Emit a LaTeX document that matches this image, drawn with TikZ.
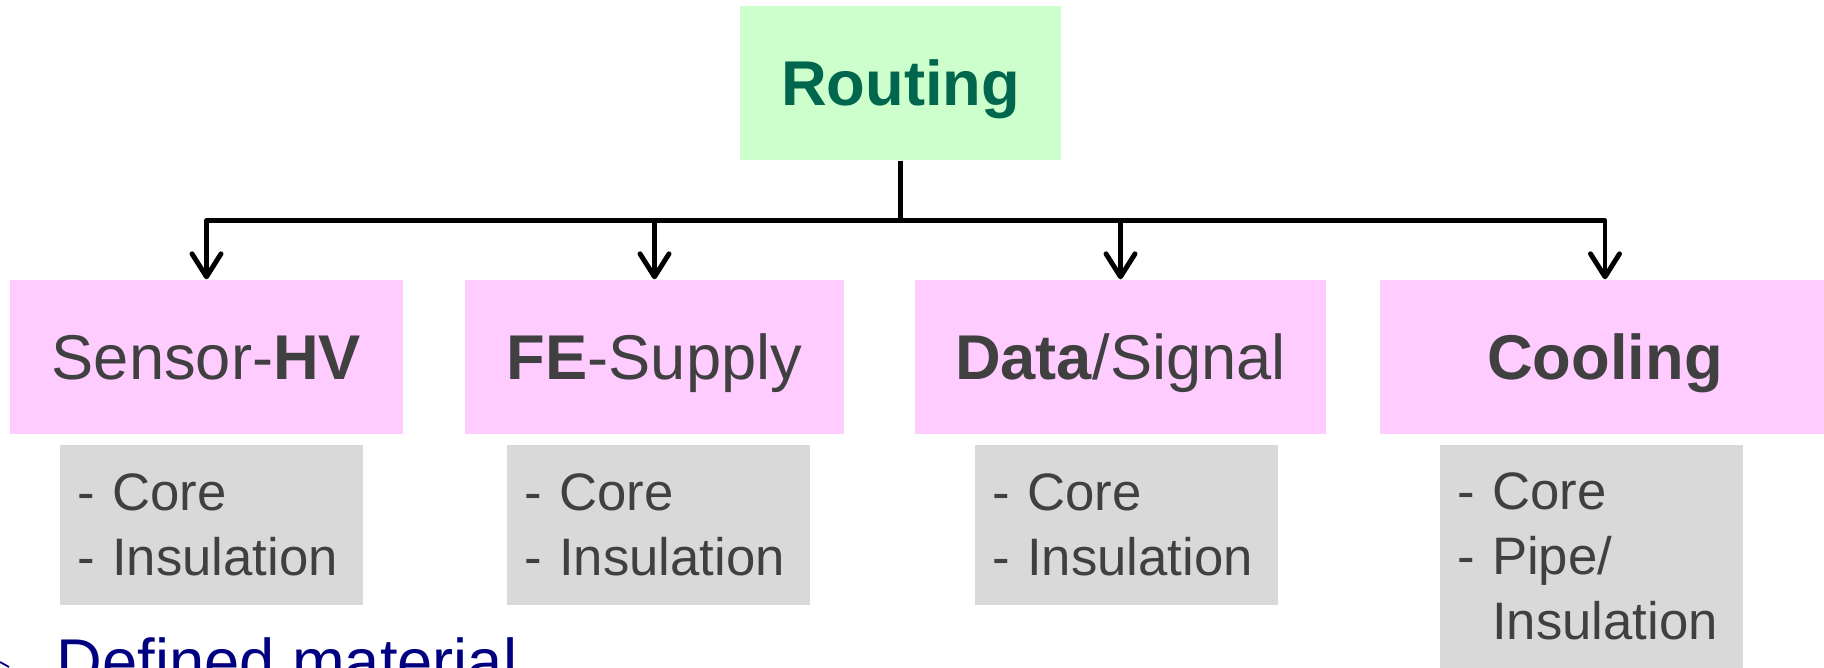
\documentclass[tikz,border=0pt]{standalone}
\usepackage{fontspec}
\setmainfont{Liberation Sans}
\usetikzlibrary{arrows.meta}
\definecolor{boxgreen}{RGB}{204,255,204}
\definecolor{boxpink}{RGB}{255,204,255}
\definecolor{boxgrey}{RGB}{217,217,217}
\definecolor{textgrey}{RGB}{64,64,64}
\definecolor{routegreen}{RGB}{0,102,78}
\definecolor{navyblue}{RGB}{0,0,128}
\tikzset{
  topbox/.style={fill=boxgreen, text=routegreen, font=\fontsize{18}{22}\selectfont\bfseries,
    minimum width=3.21cm, minimum height=1.54cm, inner sep=0pt, text height=12.9pt, text depth=0pt},
  groupbox/.style={fill=boxpink, text=textgrey, font=\fontsize{18}{22}\selectfont,
    minimum height=1.54cm, inner sep=0pt, text height=12.9pt, text depth=0pt},
  partbox/.style={fill=boxgrey, text=textgrey, font=\fontsize{15}{18.5}\selectfont,
    text width=2.69cm, align=left, inner xsep=0.17cm, inner ysep=0pt, minimum height=1.6cm},
  link/.style={line width=1.4pt, line join=round, -{Straight Barb[length=2.3mm,width=2.9mm,round]}}
}
\begin{document}
\begin{tikzpicture}
  \useasboundingbox (0,0) rectangle (18.24,6.68);
  \clip (0,0) rectangle (18.24,6.68);
  % top
  \node[topbox] (routing) at (9.005,5.85) {Routing};
  % groups
  \node[groupbox, minimum width=3.93cm] (hv) at (2.065,3.11) {Sensor-\textbf{HV}};
  \node[groupbox, minimum width=3.79cm] (fe) at (6.545,3.11) {\textbf{FE}-Supply};
  \node[groupbox, minimum width=4.11cm] (data) at (11.205,3.11) {\textbf{Data}/Signal};
  \node[groupbox, minimum width=4.5cm] (cool) at (16.05,3.11) {\textbf{Cooling}};
  % parts
  \node[partbox] (hvparts) at (2.115,1.43) {- Core\\- Insulation};
  \node[partbox] (feparts) at (6.585,1.43) {- Core\\- Insulation};
  \node[partbox] (dataparts) at (11.265,1.43) {- Core\\- Insulation};
  \node[partbox, minimum height=2.23cm] (coolparts) at (15.915,1.115) {- Core\\- Pipe/\\\phantom{- }Insulation};
  \foreach \g in {hv,fe,data,cool}
    \draw[link] (routing.south) -- ++(0,-0.6) -| (\g.north);
  % cut-off line below
  \node[anchor=base west, inner sep=0pt, text=navyblue, font=\fontsize{18}{22}\selectfont] (defmat) at (0.56,-0.16) {Defined material};
  \draw[navyblue, line width=0.5pt] (0,0.06) -- (0.09,0.01);
\end{tikzpicture}
\end{document}
